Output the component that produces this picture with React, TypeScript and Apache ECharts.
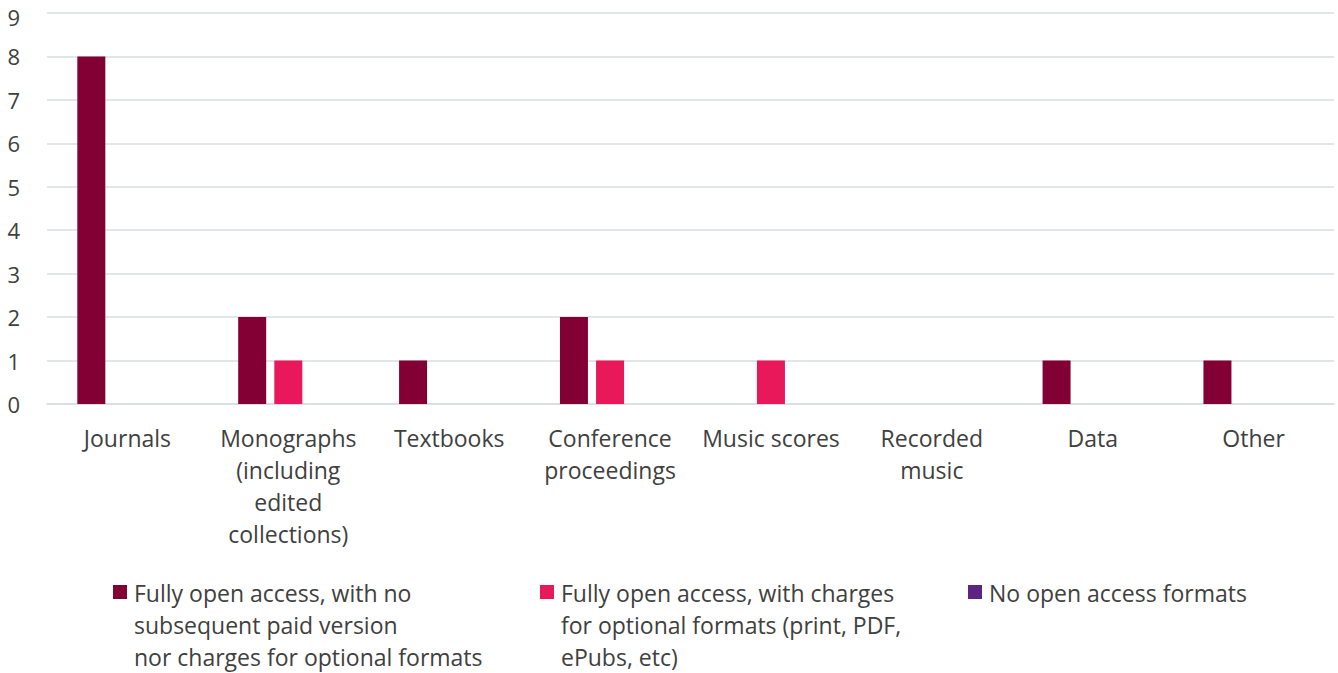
import React, { useEffect, useRef } from "react";
import * as echarts from "echarts";

const categories = [
  "Journals",
  "Monographs\n(including\nedited\ncollections)",
  "Textbooks",
  "Conference\nproceedings",
  "Music scores",
  "Recorded\nmusic",
  "Data",
  "Other",
];
const seriesNames = [
  "Fully open access, with no\nsubsequent paid version\nnor charges for optional formats",
  "Fully open access, with charges\nfor optional formats (print, PDF,\nePubs, etc)",
  "No open access formats",
];
const fullyOpenNoCharges = [8, 2, 1, 2, 0, 0, 1, 1];
const fullyOpenWithCharges = [0, 1, 0, 1, 1, 0, 0, 0];
const noOpenAccess = [0, 0, 0, 0, 0, 0, 0, 0];
const seriesColors = ["#820034", "#e8185a", "#5c2483"];
const yTicks = { min: 0, max: 9, interval: 1 };

const FONT = "'Open Sans', 'Noto Sans', sans-serif";
const TEXT = "#404040";

export default function App() {
  const ref = useRef<HTMLDivElement>(null);
  useEffect(() => {
    if (!ref.current) return;
    const chart = echarts.init(ref.current, undefined, { renderer: "svg" });
    const data = [fullyOpenNoCharges, fullyOpenWithCharges, noOpenAccess];
    const legendX = [113, 540, 968];
    const graphics: any[] = [];
    seriesNames.forEach((name, i) => {
      graphics.push({
        type: "rect",
        shape: { x: legendX[i], y: 585, width: 14, height: 14 },
        style: { fill: seriesColors[i] },
      });
      graphics.push({
        type: "text",
        x: legendX[i] + 21,
        y: 577,
        style: {
          text: name,
          font: `23px ${FONT}`,
          fill: TEXT,
          lineHeight: 32,
        },
      });
    });
    chart.setOption({
      animation: false,
      textStyle: { fontFamily: FONT },
      grid: { left: 47, right: 4, top: 13, bottom: 269, outerBoundsMode: "none", containLabel: false },
      xAxis: {
        type: "category",
        data: categories,
        axisLine: { show: true, lineStyle: { color: "#d9dde3", width: 1.5 } },
        axisTick: { show: false },
        axisLabel: {
          interval: 0,
          color: TEXT,
          fontSize: 23,
          lineHeight: 32,
          margin: 18,
          fontFamily: FONT,
        },
      },
      yAxis: {
        type: "value",
        min: yTicks.min,
        max: yTicks.max,
        interval: yTicks.interval,
        axisLine: { show: false },
        axisTick: { show: false },
        splitLine: { lineStyle: { color: "#d9dde3", width: 1.5 } },
        axisLabel: {
          color: TEXT,
          fontSize: 22,
          lineHeight: 24,
          margin: 27,
          fontFamily: FONT,
          formatter: (v: number) => (v === yTicks.max ? `{top|${v}}` : `${v}`),
          rich: {
            top: { fontSize: 22, lineHeight: 24, padding: [8, 0, 0, 0], color: TEXT, fontFamily: FONT },
          },
        },
      },
      series: data.map((d, i) => ({
        type: "bar",
        name: seriesNames[i],
        data: d,
        barWidth: 28,
        barGap: "29%",
        itemStyle: { color: seriesColors[i] },
      })),
      graphic: graphics,
    });
    return () => chart.dispose();
  }, []);
  return (
    <div
      ref={ref}
      style={{ position: "fixed", left: 0, top: 0, width: 1338, height: 673, background: "#fff" }}
    />
  );
}
